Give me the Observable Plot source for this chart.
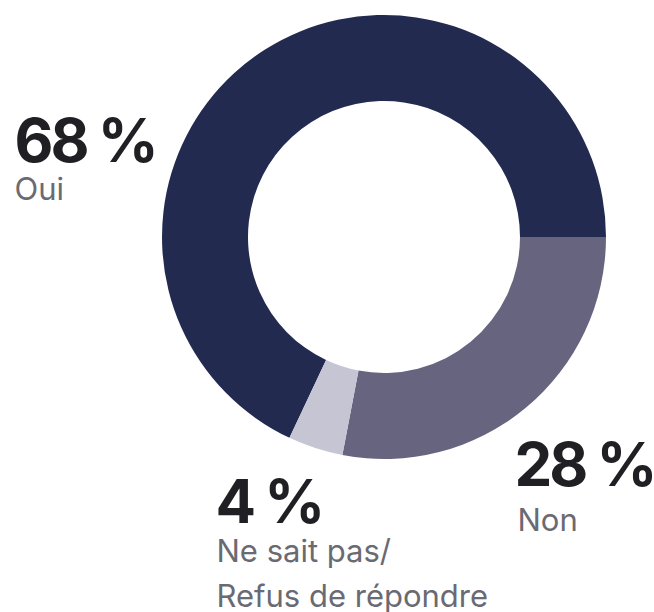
<!DOCTYPE html>
<html><head><meta charset="utf-8">
<script src="https://cdn.jsdelivr.net/npm/d3@7"></script>
<script src="https://cdn.jsdelivr.net/npm/@observablehq/plot@0.6"></script>
<style>html,body{margin:0;padding:0;background:#fff}#chart svg{display:block}</style>
</head><body><div id="chart"></div>
<script>
// Data
const categories = ["Oui", "Non", "Ne sait pas/\nRefus de répondre"];
const values = [68, 28, 4];
const valueLabels = ["68 %", "28 %", "4 %"];
const colors = ["#222a50", "#676480", "#c5c5d3"];

// Layout (pixels)
const W = 654, H = 612;
const center = {x: 384, y: 237};
const outerR = 222, innerR = 136;
const numPos = [{x: 14, y: 161}, {x: 514, y: 485}, {x: 215, y: 522}];
const labPos = [{x: 14, y: 199}, {x: 517, y: 530}, {x: 216, y: 606}];

const colorScale = Plot.scale({color: {type: "ordinal", domain: categories, range: colors}});

const rows = categories.map((c, i) => ({category: c, value: values[i], label: valueLabels[i]}));

function donut(index, scales) {
  const sx = scales && scales.x ? scales.x : (v => v);
  const sy = scales && scales.y ? scales.y : (v => v);
  const total = d3.sum(values);
  const start = Math.PI / 2 - (values[0] / total) * 2 * Math.PI;
  const pie = d3.pie().sort(null).value(d => d.value).startAngle(start).endAngle(start + 2 * Math.PI);
  const arc = d3.arc().innerRadius(innerR).outerRadius(outerR);
  const g = d3.create("svg:g").attr("transform", `translate(${sx(center.x)},${sy(center.y)})`);
  g.selectAll("path").data(pie(rows)).join("path")
    .attr("d", arc)
    .attr("fill", d => colorScale.apply(d.data.category));
  return g.node();
}

const numRows = rows.map((r, i) => ({...r, x: numPos[i].x, y: numPos[i].y}));
const labRows = rows.map((r, i) => ({...r, x: labPos[i].x, y: labPos[i].y}));

const chart = Plot.plot({
  width: W, height: H,
  margin: 0,
  style: {fontFamily: "Inter, 'Noto Sans', sans-serif", background: "#fff"},
  x: {domain: [0, W], range: [0, W], axis: null},
  y: {domain: [0, H], range: [0, H], axis: null},
  marks: [
    donut,
    Plot.text(numRows, {x: "x", y: "y", text: "label", textAnchor: "start", lineAnchor: "bottom",
      fontSize: 60, fontWeight: 700, fill: "#1f1f24"}),
    Plot.text(labRows, {x: "x", y: "y", text: "category", textAnchor: "start", lineAnchor: "bottom",
      fontSize: 31, lineHeight: 1.45, fill: "#6a6a72"})
  ]
});
chart.querySelectorAll("text").forEach(t => {
  if (t.textContent.includes("%")) t.style.letterSpacing = "-3px";
});
document.getElementById("chart").appendChild(chart);
</script>
</body></html>
